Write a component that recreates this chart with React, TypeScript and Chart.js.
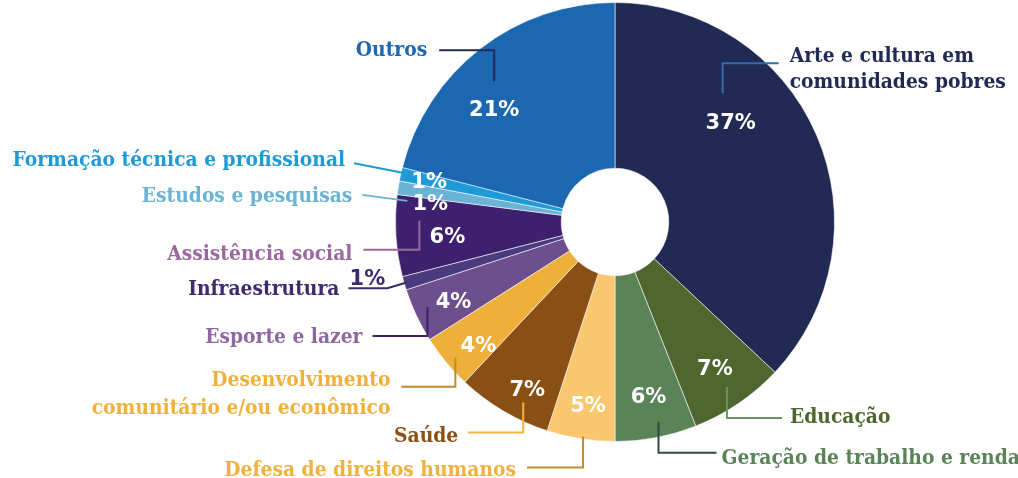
import React, { useEffect, useRef } from "react";
import { Chart, registerables } from "chart.js";

Chart.register(...registerables);

const categories = [
  "Arte e cultura em comunidades pobres",
  "Educação",
  "Geração de trabalho e renda",
  "Defesa de direitos humanos",
  "Saúde",
  "Desenvolvimento comunitário e/ou econômico",
  "Esporte e lazer",
  "Infraestrutura",
  "Assistência social",
  "Estudos e pesquisas",
  "Formação técnica e profissional",
  "Outros",
];

const labelLines = [
  ["Arte e cultura em", "comunidades pobres"],
  ["Educação"],
  ["Geração de trabalho e renda"],
  ["Defesa de direitos humanos"],
  ["Saúde"],
  ["Desenvolvimento", "comunitário e/ou econômico"],
  ["Esporte e lazer"],
  ["Infraestrutura"],
  ["Assistência social"],
  ["Estudos e pesquisas"],
  ["Formação técnica e profissional"],
  ["Outros"],
];

const values = [37, 7, 6, 5, 7, 4, 4, 1, 6, 1, 1, 21];

const sliceColors = [
  "#212A53", "#4D672E", "#5A8458", "#F9C86E", "#8A4F15", "#EEB03B",
  "#6D4F8E", "#4A3A7E", "#3E206E", "#6BB3D6", "#1E9AD8", "#1C68B0",
];

const textColors = [
  "#212A53", "#4D672E", "#5A8458", "#F0B23E", "#8A4F15", "#F0B03C",
  "#8E68A0", "#3D2B6E", "#9A6A9E", "#6BB2D5", "#1F9AD7", "#1C68B0",
];

const lineColors = [
  "#2E6DB4", "#6A9468", "#2F4A3C", "#C8882A", "#F2B440", "#C8882A",
  "#3F1F6E", "#3D2B6E", "#9A6A9E", "#6BB2D5", "#1F9AD7", "#212A53",
];

// label placement: angle offset (deg) from slice middle, radius fraction,
// leader line description relative to the percentage label centre
const layout: any[] = [
  { a: -17.1, r: 0.693, kind: "elbow", sx: -8, sy: -30, v: -30, h: 56, gap: 11, base: [-1, 25] },
  { a: 0, r: 0.81, kind: "elbow", sx: 12, sy: 18, v: 31, h: 55, gap: 8, base: [5] },
  { a: 0, r: 0.815, kind: "elbow", sx: 10, sy: 24, v: 31, h: 58, gap: 5, base: [11] },
  { a: -0.7, r: 0.85, kind: "elbow", sx: -5, sy: 30, v: 31, h: -56, gap: 11, base: [8] },
  { a: -3.1, r: 0.866, kind: "elbow", sx: -4, sy: 12, v: 30, h: -55, gap: 10, base: [9] },
  { a: -2.8, r: 0.843, kind: "elbow", sx: -23, sy: 11, v: 29, h: -54, gap: 11, base: [-1, 27] },
  { a: -1.4, r: 0.823, kind: "elbow", sx: -26, sy: 4, v: 29, h: -55, gap: 10, base: [7] },
  { a: 0, r: 0.985, kind: "outside" },
  { a: -1.8, r: 0.767, kind: "elbow", sx: -28, sy: -17, v: 29, h: -56, gap: 11, base: [10] },
  { a: -3.7, r: 0.845, kind: "slant", sx: -23, sy: -4, ex: -68, ey: -10, gap: 10, base: [7] },
  { a: -0.5, r: 0.866, kind: "slant", sx: -19, sy: -8, ex: -75, ey: -19, gap: 9, base: [3] },
  { a: -9.4, r: 0.75, kind: "elbow", sx: 0, sy: -29, v: -31, h: -55, gap: 12, base: [6] },
];

const PCT_FONT = "bold 21px 'DejaVu Sans'";
const LABEL_FONT = "bold 20.8px 'DejaVu Serif Condensed', 'DejaVu Serif'";

const labelPlugin = {
  id: "sliceLabels",
  afterDatasetsDraw(chart: any) {
    const ctx = chart.ctx;
    const meta = chart.getDatasetMeta(0);
    meta.data.forEach((arc: any, i: number) => {
      const p = arc.getProps(["x", "y", "startAngle", "endAngle", "outerRadius"], true);
      const L = layout[i];
      const mid = (p.startAngle + p.endAngle) / 2 + (L.a * Math.PI) / 180;
      const lx = p.x + Math.cos(mid) * p.outerRadius * L.r;
      const ly = p.y + Math.sin(mid) * p.outerRadius * L.r;
      const pct = values[i] + "%";
      ctx.save();
      ctx.lineWidth = 2;
      ctx.strokeStyle = lineColors[i];
      ctx.lineCap = "butt";
      ctx.lineJoin = "miter";
      if (L.kind === "outside") {
        ctx.beginPath();
        ctx.moveTo(lx, ly);
        ctx.lineTo(lx - 20, ly + 6);
        ctx.lineTo(lx - 59, ly + 6);
        ctx.stroke();
        ctx.fillStyle = textColors[i];
        ctx.font = PCT_FONT;
        ctx.textAlign = "center";
        ctx.textBaseline = "middle";
        ctx.fillText(pct, lx - 40, ly - 3);
        ctx.font = LABEL_FONT;
        ctx.textAlign = "right";
        ctx.textBaseline = "alphabetic";
        ctx.fillText(labelLines[i][0], lx - 68, ly + 13);
        ctx.restore();
        return;
      }
      let ex: number, ey: number, dir: number;
      ctx.beginPath();
      ctx.moveTo(lx + L.sx, ly + L.sy);
      if (L.kind === "elbow") {
        const cy = ly + L.sy + L.v;
        ctx.lineTo(lx + L.sx, cy);
        ex = lx + L.sx + L.h;
        ey = cy;
        ctx.lineTo(ex, ey);
        dir = L.h > 0 ? 1 : -1;
      } else {
        ex = lx + L.ex;
        ey = ly + L.ey;
        ctx.lineTo(ex, ey);
        dir = -1;
      }
      ctx.stroke();
      ctx.fillStyle = textColors[i];
      ctx.font = LABEL_FONT;
      ctx.textAlign = dir > 0 ? "left" : "right";
      ctx.textBaseline = "alphabetic";
      labelLines[i].forEach((t: string, k: number) => {
        ctx.fillText(t, ex + dir * L.gap, ey + L.base[k]);
      });
      ctx.fillStyle = "#FFFFFF";
      ctx.font = PCT_FONT;
      ctx.textAlign = "center";
      ctx.textBaseline = "middle";
      ctx.fillText(pct, lx, ly);
      ctx.restore();
    });
  },
};

export default function App() {
  const ref = useRef<HTMLCanvasElement>(null);
  useEffect(() => {
    if (!ref.current) return;
    const chart = new Chart(ref.current, {
      type: "doughnut",
      data: {
        labels: categories,
        datasets: [
          {
            data: values,
            backgroundColor: sliceColors,
            borderColor: "rgba(255,255,255,0.55)",
            borderWidth: 1,
          },
        ],
      },
      options: {
        responsive: false,
        animation: false,
        cutout: "24.5%",
        layout: { padding: { left: 395, right: 183, top: 2, bottom: 36 } },
        plugins: {
          legend: { display: false },
          tooltip: { enabled: false },
        },
      },
      plugins: [labelPlugin],
    });
    return () => chart.destroy();
  }, []);
  return (
    <div style={{ position: "fixed", left: 0, top: 0, width: 1018, height: 478, background: "#fff" }}>
      <canvas ref={ref} width={1018} height={478} />
    </div>
  );
}
